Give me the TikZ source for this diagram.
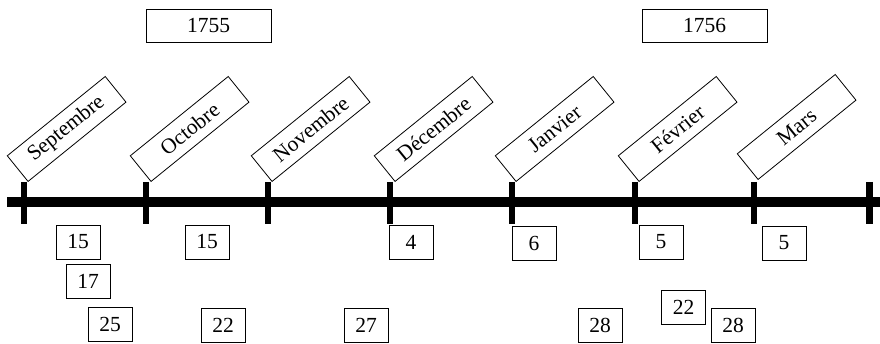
\documentclass[tikz,border=0pt]{standalone}
\usepackage{fontspec}
\setmainfont{Liberation Serif}
\begin{document}
\begin{tikzpicture}[x=1pt,y=1pt]
\tikzstyle{every node}+=[inner sep=0pt,font=\fontsize{21.5}{24}\selectfont]
\tikzstyle{datebox}=[draw,line width=0.8pt,minimum width=44pt,minimum height=34pt]
\tikzstyle{yearbox}=[draw,line width=0.8pt,minimum width=125pt,minimum height=33pt]
\tikzstyle{monthbox}=[draw,line width=0.8pt,rotate=39,anchor=south west,minimum width=126pt,minimum height=33pt]
\useasboundingbox (0,0) rectangle (880,343);
% axis
\draw [line width=10pt] (7,141) -- (880,141);
\foreach \x/\n in {24/tsep,146/toct,268/tnov,390/tdec,512/tjan,635/tfev,754/tmar,869.5/tavr}
{
  \coordinate (\n) at (\x,161);
  \draw [line width=6.5pt] (\x,161) -- (\x,119);
}
% months
\node [monthbox] (sep) at ([xshift=4pt]tsep) {Septembre};
\node [monthbox] (oct) at ([xshift=5pt]toct) {Octobre};
\node [monthbox] (nov) at ([xshift=4pt]tnov) {Novembre};
\node [monthbox] (dec) at ([xshift=5pt]tdec) {Décembre};
\node [monthbox] (jan) at ([xshift=4pt]tjan) {Janvier};
\node [monthbox] (fev) at ([xshift=4pt]tfev) {Février};
\node [monthbox] (mar) at ([xshift=4pt,yshift=2pt]tmar) {Mars};
% years
\node [yearbox] (y1755) at (208.5,317.5) {1755};
\node [yearbox] (y1756) at (704.5,317.5) {1756};
% days
\node [datebox] (d15a) at (78,101) {15};
\node [datebox] (d17) at (88,61.5) {17};
\node [datebox] (d25) at (110,19) {25};
\node [datebox] (d15b) at (207,101) {15};
\node [datebox] (d22a) at (223,18) {22};
\node [datebox] (d27) at (366,18) {27};
\node [datebox] (d4) at (411,101) {4};
\node [datebox] (d6) at (534,100) {6};
\node [datebox] (d28a) at (600,18) {28};
\node [datebox] (d5a) at (661,101) {5};
\node [datebox] (d22b) at (683.5,36) {22};
\node [datebox] (d28b) at (733,18) {28};
\node [datebox] (d5b) at (784,100) {5};
\end{tikzpicture}
\end{document}
